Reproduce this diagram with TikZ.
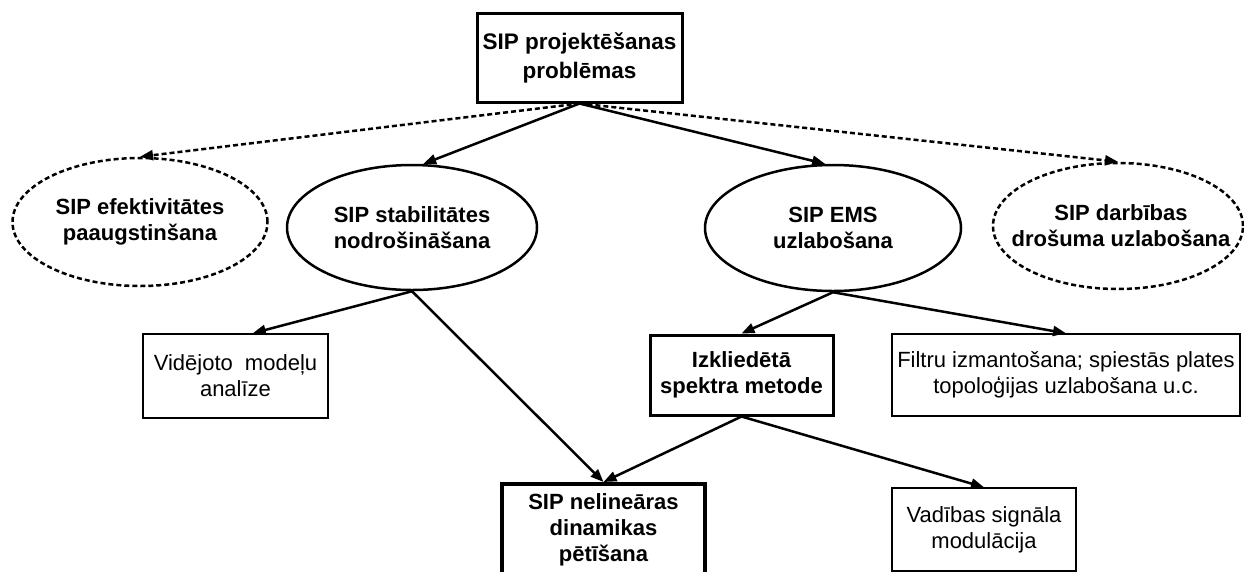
\documentclass[tikz,border=0pt]{standalone}
\usepackage{fontspec}
\setmainfont{Liberation Sans}
\usetikzlibrary{shapes.geometric,arrows.meta}
\begin{document}
\begin{tikzpicture}[x=1pt,y=-1pt,
  every node/.style={font=\fontsize{22}{26}\selectfont, align=center, inner sep=0pt},
  bt/.style={font=\fontsize{22}{26}\selectfont\bfseries},
  ell/.style={ellipse, draw, line width=2.5pt},
  dell/.style={ell, dash pattern=on 5pt off 3pt},
  thinbox/.style={rectangle, draw, line width=1.5pt},
  thickbox/.style={rectangle, draw, line width=3pt, bt},
  conn/.style={line width=2.5pt, -{Triangle[length=13pt,width=10pt]}},
  dconn/.style={conn, dash pattern=on 5pt off 3pt}]
\useasboundingbox (0,0) rectangle (1244,571);

% top box
\node[thickbox, font=\fontsize{22.5}{29}\selectfont\bfseries, minimum width=205, minimum height=89] (top) at (579.5,57.5) {SIP projektēšanas\\problēmas};

% ellipses
\node[dell, minimum width=255, minimum height=128] (eff) at (140,222) {};
\node[bt] (efft) at (eff.center) {SIP efektivitātes\\paaugstinšana};
\node[ell, minimum width=250, minimum height=125] (stab) at (412,227.5) {};
\node[bt] (stabt) at (stab.center) {SIP stabilitātes\\nodrošināšana};
\node[ell, minimum width=256, minimum height=126] (ems) at (833,228) {};
\node[bt] (emst) at (ems.center) {SIP EMS\\uzlabošana};
\node[dell, minimum width=250, minimum height=126] (rel) at (1118,226) {};
\node[bt] (relt) at (1121,226) {SIP darbības\\drošuma uzlabošana};

% second row boxes
\node[thinbox, minimum width=185, minimum height=84] (vid) at (235.5,376) {Vidējoto\hspace{0.55em}modeļu\\analīze};
\node[thickbox, minimum width=183, minimum height=80] (izk) at (741.5,375) {Izkliedētā\\spektra metode};
\node[thinbox, minimum width=348, minimum height=82] (fil) at (1066,375) {Filtru izmantošana; spiestās plates\\topoloģijas uzlabošana u.c.};

% bottom boxes
\node[rectangle, draw, line width=4pt, bt, minimum width=203, minimum height=92] (nel) at (603.5,530) {SIP nelineāras\\dinamikas\\pētīšana};
\node[thinbox, minimum width=184, minimum height=83] (vad) at (984,529.5) {Vadības signāla\\modulācija};

% connectors
\draw[dconn] (top.south) -- (eff.north);
\draw[conn] (top.south) -- (stab.80);
\draw[conn] (top.south) -- (ems.97);
\draw[dconn] (top.south) -- (rel.north);

\draw[conn] (stab.south) -- (vid.68);
\draw[conn] (stab.south) -- (nel.north);
\draw[conn] (ems.south) -- (izk.north);
\draw[conn] (ems.south) -- (fil.north);
\draw[conn] (izk.south) -- (nel.north);
\draw[conn] (izk.south) -- (vad.north);
\end{tikzpicture}
\end{document}
